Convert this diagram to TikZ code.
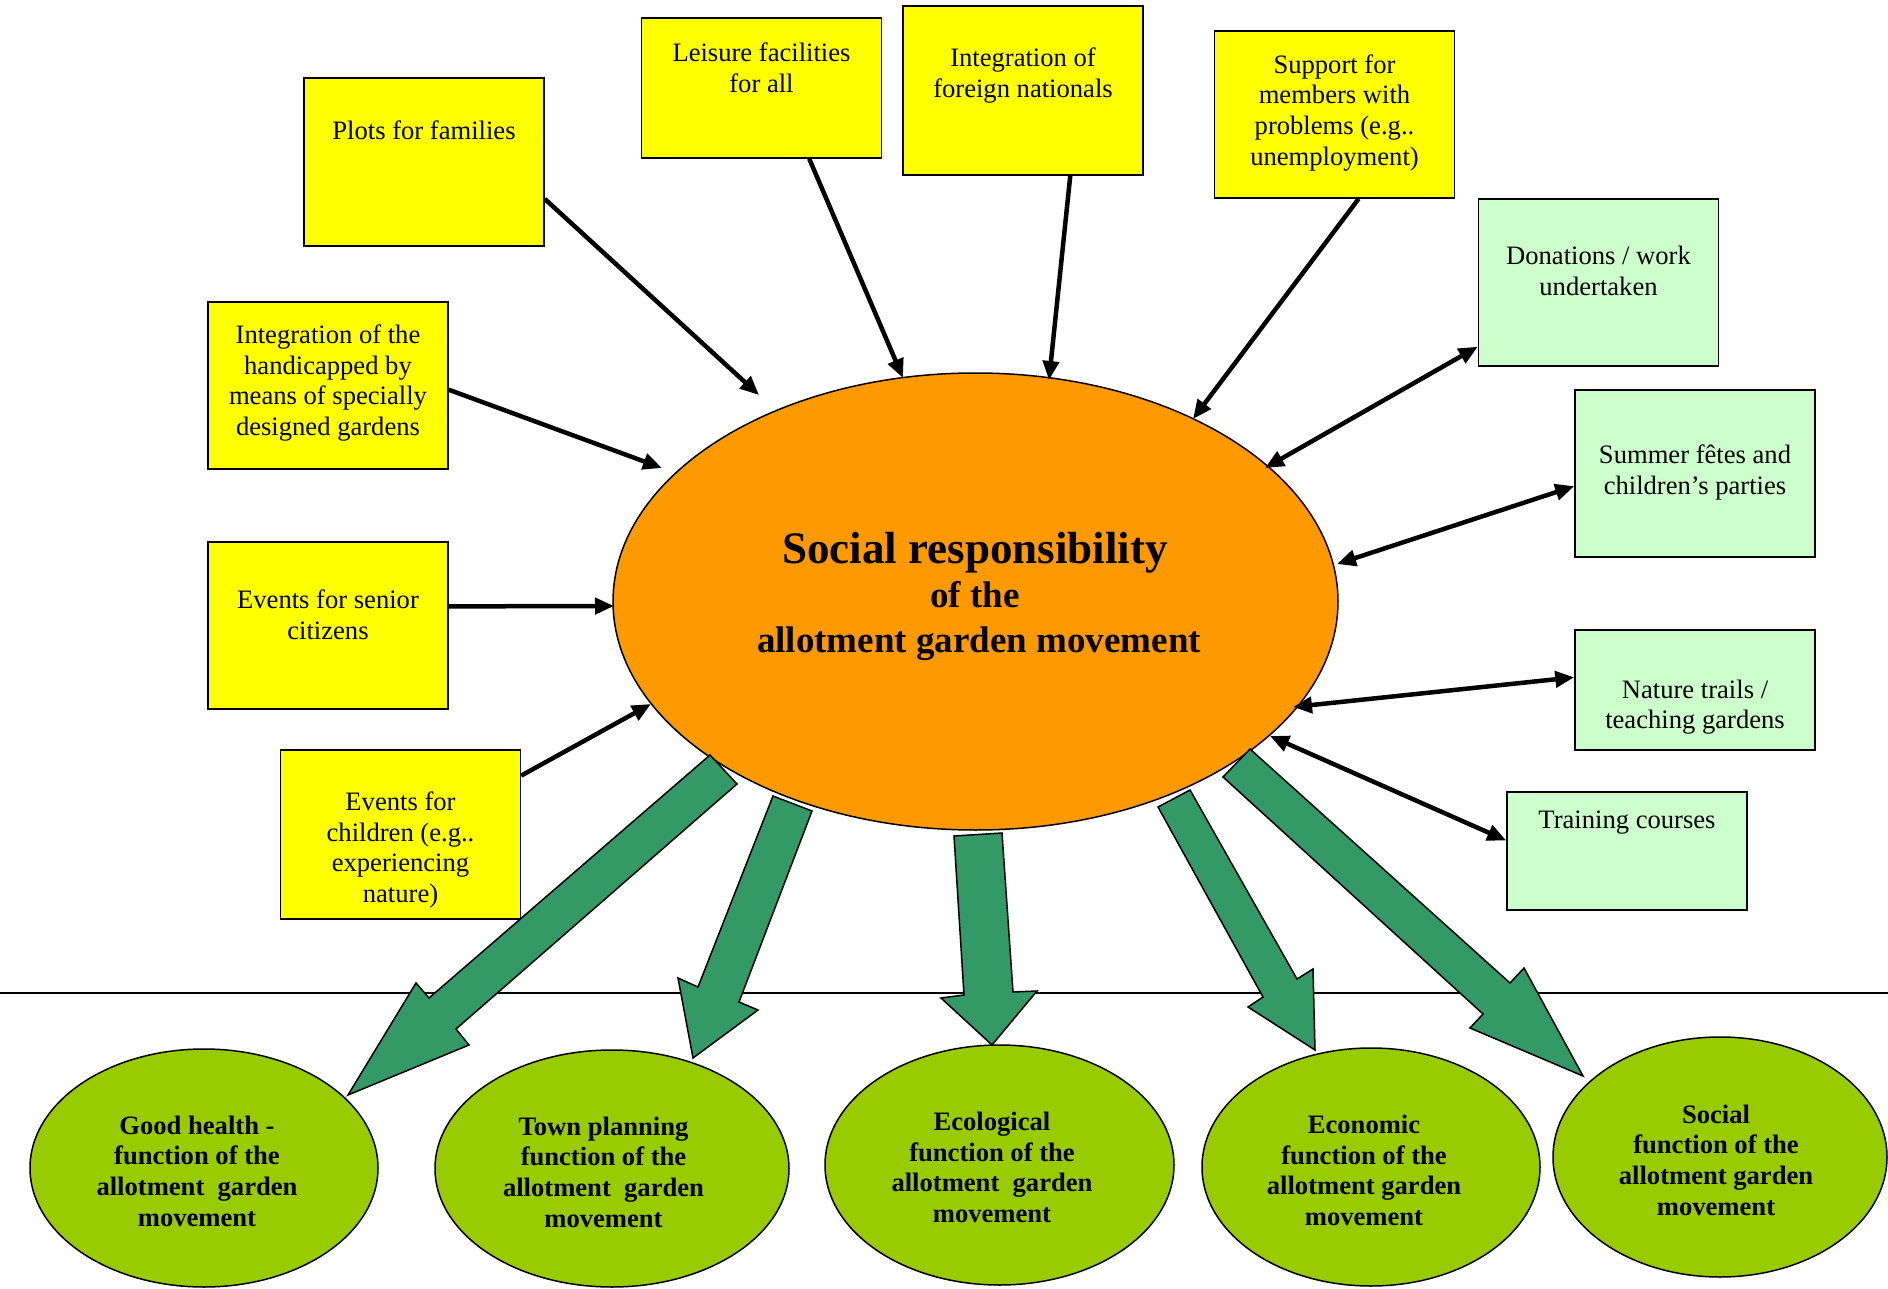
\documentclass[tikz,border=0pt]{standalone}
\usepackage{fontspec}
\setmainfont{Liberation Serif}
\usetikzlibrary{arrows.meta,shapes.geometric}
\definecolor{boxyellow}{HTML}{FFFF00}
\definecolor{boxgreen}{HTML}{CCFFCC}
\definecolor{orangeC}{HTML}{FF9900}
\definecolor{limeC}{HTML}{99CC00}
\definecolor{arrowgreen}{HTML}{339966}
\begin{document}
\begin{tikzpicture}[x=1pt,y=-1pt,
  ybox/.style={draw, line width=1.5pt, fill=boxyellow, minimum width=240pt, minimum height=168pt, inner sep=0pt},
  gbox/.style={ybox, fill=boxgreen},
  btext/.style={font=\fontsize{26.6}{30.7}\selectfont, align=center, inner sep=0pt},
  conn/.style={line width=4.5pt, -{Triangle[length=19pt,width=16pt]}},
  dconn/.style={line width=4.5pt, {Triangle[length=19pt,width=16pt]}-{Triangle[length=19pt,width=16pt]}},
  fat/.style={draw, line width=1.5pt, fill=arrowgreen, line join=miter},
  funcell/.style={ellipse, draw, line width=1.5pt, fill=limeC, inner sep=0pt},
  functext/.style={align=center, inner sep=0pt, font=\fontsize{26.6}{30.7}\selectfont\bfseries}
]
\fill[white] (0,0) rectangle (1888,1289);
\useasboundingbox (0,0) rectangle (1888,1289);

% horizontal divider
\coordinate (hl) at (0,993);
\coordinate (hr) at (1888,993);
\draw[line width=1.5pt] (hl) -- (hr);

% bottom function ellipses
\node[funcell, minimum width=348pt, minimum height=238pt] (fA) at (204,1168) {};
\node[functext] (fAT) at (197,1171) {Good health -\\function of the\\allotment\ \ garden\\movement};
\node[funcell, minimum width=354pt, minimum height=237pt] (fB) at (612,1168.5) {};
\node[functext] (fBT) at (603.5,1172) {Town planning\\function of the\\allotment\ \ garden\\movement};
\node[funcell, minimum width=349pt, minimum height=240pt] (fC) at (999.5,1165) {};
\node[functext] (fCT) at (992,1167.5) {Ecological\\function of the\\allotment\ \ garden\\movement};
\node[funcell, minimum width=338pt, minimum height=238pt] (fD) at (1371,1167) {};
\node[functext] (fDT) at (1364,1170.5) {Economic\\function of the\\allotment garden\\movement};
\node[funcell, minimum width=334pt, minimum height=240pt] (fE) at (1720,1157) {};
\node[functext] (fET) at (1716,1160) {Social\\function of the\\allotment garden\\movement};

% yellow boxes
\node[ybox] (plots) at (424,162) {};
\node[btext] (plotsT) at (424,130) {Plots for families};
\node[ybox, minimum height=140pt] (leisure) at (761.5,88) {};
\node[btext] (leisureT) at (761.5,67.5) {Leisure facilities\\for all};
\node[ybox, minimum height=169pt] (foreign) at (1023,90.5) {};
\node[btext] (foreignT) at (1023,75.4) {Integration of\\foreign nationals};
\node[ybox, minimum height=167pt] (support) at (1334.5,114.5) {};
\node[btext] (supportT) at (1334.5,112.6) {Support for\\members with\\problems (e.g..\\unemployment)};
\node[ybox, minimum height=167pt] (handi) at (328,385.5) {};
\node[btext] (handiT) at (328,382.9) {Integration of the\\handicapped by\\means of specially\\designed gardens};
\node[ybox, minimum height=167pt] (senior) at (328,625.5) {};
\node[btext] (seniorT) at (328,614.5) {Events for senior\\citizens};
\node[ybox, minimum height=169pt] (child) at (400.5,834.5) {};
\node[btext] (childT) at (400.5,850) {Events for\\children (e.g..\\experiencing\\nature)};

% green boxes
\node[gbox, minimum height=167pt] (don) at (1598.5,282.5) {};
\node[btext] (donT) at (1598.5,271) {Donations / work\\undertaken};
\node[gbox, minimum height=167pt] (summer) at (1695,473.5) {};
\node[btext] (summerT) at (1695,472.5) {Summer fêtes and\\children’s parties};
\node[gbox, minimum height=120pt] (nature) at (1695,690) {};
\node[btext] (natureT) at (1695,707.1) {Nature trails /\\teaching gardens};
\node[gbox, minimum height=118pt] (train) at (1627,851) {};
\node[btext] (trainT) at (1627,822.8) {Training courses};

% central ellipse
\node[ellipse, draw, line width=1.5pt, fill=orangeC, minimum width=725pt, minimum height=457pt, inner sep=0pt] (soc) at (975.5,601.5) {};
\node[font=\fontsize{45}{50}\selectfont\bfseries, inner sep=0pt] (title1) at (975,553) {Social responsibility};
\node[font=\fontsize{37}{44}\selectfont\bfseries, inner sep=0pt] (title2) at (975,595) {of the};
\node[font=\fontsize{37}{44}\selectfont\bfseries, inner sep=0pt] (title3) at (979,644) {allotment garden movement};

% arrow tip coordinates at the central ellipse
\coordinate (t1) at (759,395);
\coordinate (t2) at (903,378);
\coordinate (t3) at (1049,380);
\coordinate (t4) at (1193,419);
\coordinate (t5) at (662,468);
\coordinate (t6) at (614,606);
\coordinate (t7) at (651,704);
\coordinate (t8) at (1265,468);
\coordinate (t9) at (1337,564);
\coordinate (t10) at (1293,707);
\coordinate (t11) at (1270,736);

% thin connectors
\draw[conn] (plots.-17.1) -- (t1);
\draw[conn] (leisure.-56.4) -- (t2);
\draw[conn] (foreign.-61.4) -- (t3);
\draw[conn] (support.-74.5) -- (t4);
\draw[conn] (handi.-2.1) -- (t5);
\draw[conn] (senior.9.4) -- (t6);
\draw[conn] (child.26.9) -- (t7);
\draw[dconn] (don.208) -- (t8);
\draw[dconn] (summer.186.9) -- (t9);
\draw[dconn] (nature.174.8) -- (t10);
\draw[dconn] (train.175.7) -- (t11);

% fat green block arrows
\draw[fat] (710,755) -- (429,998) -- (416,983) -- (348,1095) -- (469,1045) -- (456,1029) -- (737,784) -- cycle;
\draw[fat] (773,796) -- (698,987) -- (678,978) -- (693,1058) -- (758,1010) -- (739,1002) -- (812,811) -- cycle;
\draw[fat] (954,836) -- (964,995) -- (941,998) -- (992,1045) -- (1037,991) -- (1013,992) -- (1002,833) -- cycle;
\draw[fat] (1158,807) -- (1263,997) -- (1248,1007) -- (1315,1050) -- (1313,969) -- (1297,979) -- (1190,790) -- cycle;
\draw[fat] (1223,777) -- (1483,1014) -- (1470,1028) -- (1583,1076) -- (1524,968) -- (1510,983) -- (1250,749) -- cycle;
\end{tikzpicture}
\end{document}
